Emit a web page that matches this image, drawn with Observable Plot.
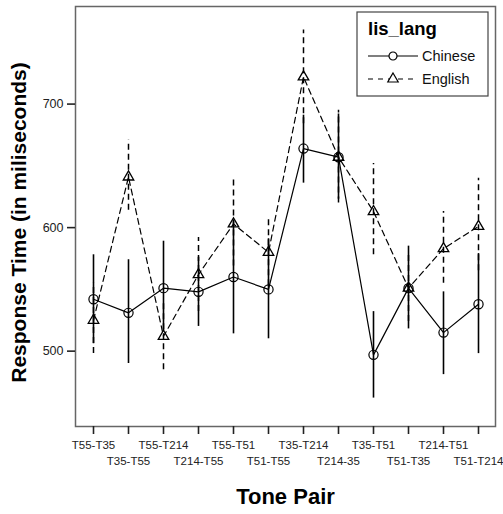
<!DOCTYPE html>
<html><head><meta charset="utf-8">
<script src="https://cdn.jsdelivr.net/npm/d3@7"></script>
<script src="https://cdn.jsdelivr.net/npm/@observablehq/plot@0.6"></script>
<style>
body{margin:0;background:#fff;}
#chart svg{font-family:"Liberation Sans",Arial,sans-serif;}
</style></head><body><div id="chart"></div>
<script>
const categories = ["T55-T35","T35-T55","T55-T214","T214-T55","T55-T51","T51-T55","T35-T214","T214-35","T35-T51","T51-T35","T214-T51","T51-T214"];
const chineseMean = [542, 531, 551, 548, 560, 550, 664, 657, 497, 551, 515, 538];
const chineseLow  = [506, 490, 516, 520, 514, 510, 636, 623, 462, 518, 481, 498];
const chineseHigh = [578, 574, 589, 576, 605, 591, 691, 692, 532, 585, 548, 579];
const englishMean = [525, 641, 512, 562, 603, 580, 722, 657, 613, 551, 583, 601];
const englishLow  = [498, 614, 485, 532, 569, 553, 684, 620, 578, 524, 555, 565];
const englishHigh = [555, 671, 541, 592, 640, 609, 760, 695, 652, 580, 613, 640];
const yTicks = [500, 600, 700];
const seriesNames = ["Chinese", "English"];
const legendTitle = "lis_lang";
const xTitle = "Tone Pair";
const yTitle = "Response Time (in miliseconds)";

const ch = categories.map((c,i)=>({pair:c, mean:chineseMean[i], lo:chineseLow[i], hi:chineseHigh[i]}));
const en = categories.map((c,i)=>({pair:c, mean:englishMean[i], lo:englishLow[i], hi:englishHigh[i]}));
const evenCats = categories.filter((d,i)=>i%2===0);
const oddCats = categories.filter((d,i)=>i%2===1);

const font = "Liberation Sans, Arial, sans-serif";
const plot = Plot.plot({
  width: 503, height: 514,
  marginLeft: 75, marginRight: 8, marginTop: 6, marginBottom: 88,
  style: {fontFamily: font, background: "#fff"},
  x: {type: "point", domain: categories, padding: 0.5, label: null},
  y: {domain: [439, 779], label: null},
  marks: [
    Plot.frame({stroke: "#666", strokeWidth: 1.5}),
    Plot.axisY({ticks: yTicks, tickSize: 8, tickPadding: 4, fontSize: 12.5, color: "#222", strokeWidth: 1.6, label: null}),
    Plot.axisX(evenCats, {tickSize: 8, tickPadding: 6, fontSize: 11.5, color: "#222", strokeWidth: 1.6, label: null}),
    Plot.axisX(oddCats, {tickSize: 8, tickPadding: 22, fontSize: 11.5, color: "#222", strokeWidth: 1.6, label: null}),
    Plot.ruleX(ch, {x: "pair", y1: "lo", y2: "hi", stroke: "#000", strokeWidth: 1.6}),
    Plot.ruleX(en, {x: "pair", y1: "lo", y2: "hi", stroke: "#000", strokeWidth: 1.5, strokeDasharray: "6,4"}),
    Plot.lineY(ch, {x: "pair", y: "mean", stroke: "#000", strokeWidth: 1.2}),
    Plot.lineY(en, {x: "pair", y: "mean", stroke: "#000", strokeWidth: 1.2, strokeDasharray: "6,4"}),
    Plot.dot(ch, {x: "pair", y: "mean", symbol: "circle", r: 4.6, stroke: "#000", strokeWidth: 1.2, fill: "none"}),
    Plot.dot(en, {x: "pair", y: "mean", symbol: "triangle", r: 3.9, stroke: "#000", strokeWidth: 1.3, fill: "none"}),
    Plot.text([xTitle], {frameAnchor: "bottom", dy: 77, fontSize: 22, fontWeight: "bold", fill: "#000"}),
    Plot.text([yTitle], {frameAnchor: "left", dx: -56, dy: 6, rotate: -90, textAnchor: "middle", fontSize: 21, fontWeight: "bold", fill: "#000"})
  ]
});
document.getElementById("chart").appendChild(plot);

// legend inside the plot area
const svg = d3.select(plot);
const g = svg.append("g").attr("font-family", font).attr("text-anchor", "start");
g.append("rect").attr("x", 357).attr("y", 12).attr("width", 131).attr("height", 84)
  .attr("fill", "#fff").attr("stroke", "#444").attr("stroke-width", 1.2);
g.append("text").attr("x", 368).attr("y", 35).attr("font-size", 18.5).attr("font-weight", "bold").text(legendTitle);
const rowsY = [56, 79];
seriesNames.forEach((name, i) => {
  const y = rowsY[i];
  g.append("line").attr("x1", 368).attr("x2", 418).attr("y1", y).attr("y2", y)
    .attr("stroke", "#000").attr("stroke-width", 1.2).attr("stroke-dasharray", i ? "5,5" : null);
  g.append("path").attr("transform", `translate(393,${y})`)
    .attr("d", d3.symbol(i ? d3.symbolTriangle : d3.symbolCircle, Math.PI * (i ? 15 : 16))())
    .attr("fill", "#fff").attr("stroke", "#000").attr("stroke-width", 1.2);
  g.append("text").attr("x", 422).attr("y", y + 5).attr("font-size", 14.5).attr("fill", "#111").text(name);
});
</script></body></html>
